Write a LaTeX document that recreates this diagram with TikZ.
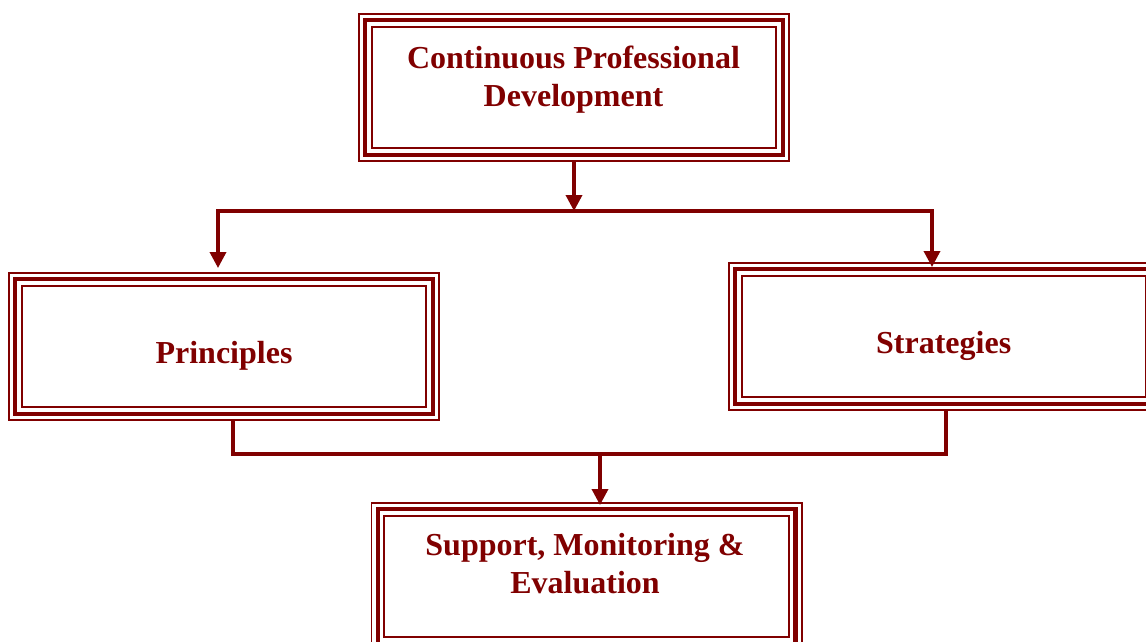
\documentclass[tikz,border=0pt]{standalone}
\usepackage{fontspec}
\setmainfont{Liberation Serif}
\usepackage{xcolor}
\definecolor{wine}{HTML}{800000}
\usetikzlibrary{arrows.meta,positioning,calc}
\tikzset{
  >={Triangle[length=16pt,width=16pt]},
  box/.style={minimum width=432pt,minimum height=149pt,inner sep=0pt,outer sep=0pt},
  lab/.style={font=\fontsize{32}{38.5}\selectfont\bfseries,text=wine,align=center,inner sep=0pt},
  rim/.style={draw=wine},
  link/.style={draw=wine,line width=3.5pt},
  arr/.style={link,->},
}
\begin{document}
\begin{tikzpicture}[x=1pt,y=-1pt]
\path[use as bounding box,clip] (0,0) rectangle (1146,641);
\node[box] (cpd) at (574,87.5) {};
\node[box] (prin) at (224,346.5) {};
\node[box] (strat) at (944,336.5) {};
\node[box] (sme) at (586.5,576.5) {};
% thin / thick / thin frame round every box
\foreach \n in {cpd,prin,strat,sme}{
  \draw[rim,line width=1.6pt] ($(\n.north west)+(0.8,0.8)$) rectangle ($(\n.south east)-(0.8,0.8)$);
  \draw[rim,line width=4.4pt] ($(\n.north west)+(7.2,7.2)$) rectangle ($(\n.south east)-(7.2,7.2)$);
  \draw[rim,line width=2pt] ($(\n.north west)+(13.8,13.8)$) rectangle ($(\n.south east)-(13.8,13.8)$);
}
\node[lab] (cpd-t) at (573.5,79.6) {Continuous Professional\\Development};
\node[lab] (prin-t) at (224,356) {Principles};
\node[lab] (strat-t) at (943.7,346) {Strategies};
\node[lab] (sme-t) at (585,563.5) {Support, Monitoring \&\\Evaluation};

\coordinate (busT) at (574,211);
\coordinate (busL) at (218,211);
\coordinate (busR) at (932,211);
\draw[arr] (cpd.south) -- (busT);
\draw[arr,shorten >=4pt] (busT) -- (busL) -- (busL |- prin.north);
\draw[arr,shorten >=-5pt] (busT) -- (busR) -- (busR |- strat.north);

\coordinate (dropL) at (233,454);
\coordinate (dropR) at (946,454);
\coordinate (busB) at (600,454);
\draw[link] (dropL |- prin.south) -- (dropL) -- (dropR) -- (dropR |- strat.south);
\draw[arr,shorten >=-3pt] (busB) -- (busB |- sme.north);
\end{tikzpicture}
\end{document}
